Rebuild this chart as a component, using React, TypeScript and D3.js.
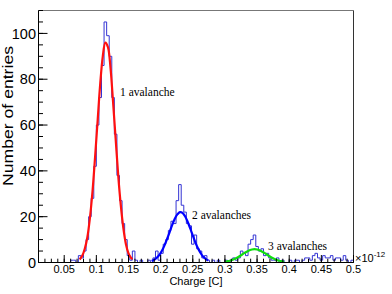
import React from 'react';
import * as d3 from 'd3';

// histogram: bins of width 0.004 starting at 0.056 (in units of 1e-12 C)
const binStart = 0.056;
const binWidth = 0.004;
const counts = [
  0, 1, 1, 0, 3, 2, 5, 10, 20, 28, 42, 60, 72, 86, 105, 99, 90, 72, 56, 38,
  27, 17, 10, 3, 1, 5, 1, 0, 1, 0, 0, 1, 0, 2, 5, 1, 4, 8, 10, 14,
  18, 17, 27, 34, 25, 22, 17, 16, 8, 12, 6, 5, 2, 3, 1, 0, 1, 0, 1, 0,
  0, 1, 0, 1, 2, 1, 2, 5, 4, 3, 8, 10, 12, 7, 5, 6, 3, 4, 2, 1,
  1, 2, 0, 1, 0, 0, 1, 0, 1, 1, 0, 1, 2, 2, 1, 3, 4, 2, 1, 3,
  2, 2, 3, 1, 2, 2, 1, 3, 1, 0, 1,
];

// fitted curves
const fit1X = [0.074, 0.078, 0.082, 0.086, 0.09, 0.094, 0.098, 0.102, 0.106, 0.11, 0.114, 0.118, 0.122, 0.126, 0.13, 0.134, 0.138, 0.142, 0.146, 0.15, 0.154, 0.156];
const fit1Y = [1.3, 2.9, 6, 11, 19.5, 31, 46, 62, 78, 90, 96, 94, 85, 70, 54, 38, 25, 15, 8, 4, 2, 1.4];
const fit2X = [0.186, 0.19, 0.194, 0.198, 0.202, 0.206, 0.21, 0.214, 0.218, 0.222, 0.226, 0.23, 0.234, 0.238, 0.242, 0.246, 0.25, 0.254, 0.258, 0.262, 0.266, 0.27, 0.274];
const fit2Y = [0.66, 1.2, 2.1, 3.3, 5.1, 7.5, 10.3, 13.3, 16.4, 19.1, 21, 22, 21.7, 20.2, 17.8, 14.9, 11.8, 8.8, 6.2, 4.2, 2.6, 1.6, 0.9];
const fit3X = [0.3, 0.306, 0.312, 0.318, 0.324, 0.33, 0.336, 0.342, 0.346, 0.35, 0.356, 0.362, 0.368, 0.374, 0.38, 0.386, 0.392];
const fit3Y = [0.31, 0.63, 1.17, 1.96, 2.97, 4.07, 5.05, 5.67, 5.8, 5.67, 5.05, 4.07, 2.97, 1.96, 1.17, 0.63, 0.31];

const xMajor = [0.05, 0.1, 0.15, 0.2, 0.25, 0.3, 0.35, 0.4, 0.45, 0.5];
const xLabels = ['0.05', '0.1', '0.15', '0.2', '0.25', '0.3', '0.35', '0.4', '0.45', '0.5'];
const yMajor = [0, 20, 40, 60, 80, 100];

const sans = 'Liberation Sans, Arial, sans-serif';
const serif = 'Liberation Serif, Times New Roman, serif';

const W = 392;
const H = 294;

const x = d3.scaleLinear().domain([0.01, 0.5]).range([38.5, 353.5]);
const y = d3.scaleLinear().domain([0, 110]).range([262.5, 10.5]);

const App: React.FC = () => {
  const histPts: [number, number][] = [[0.01, 0], [binStart, 0]];
  counts.forEach((c, i) => histPts.push([binStart + i * binWidth, c]));
  histPts.push([binStart + counts.length * binWidth, 0]);
  const step = d3
    .line<[number, number]>()
    .x((d) => x(d[0]))
    .y((d) => y(d[1]))
    .curve(d3.curveStepAfter);

  const smooth = d3
    .line<number>()
    .curve(d3.curveCatmullRom);
  const fitPath = (xs: number[], ys: number[]) =>
    smooth.x((_, i) => x(xs[i])).y((_, i) => y(ys[i]))(xs) as string;

  const xMinor = d3.range(1, 51).map((k) => k / 100);
  const yMinor = d3.range(0, 23).map((k) => k * 5);

  return (
    <div style={{ position: 'fixed', left: 0, top: 0 }}>
      <svg width={W} height={H} style={{ display: 'block', background: '#fff' }}>
        <path d={step(histPts) as string} fill="none" stroke="#3434d4" strokeWidth={1} />
        <path d={fitPath(fit1X, fit1Y)} fill="none" stroke="#ff1010" strokeWidth={2.2} />
        <path d={fitPath(fit2X, fit2Y)} fill="none" stroke="#0000ff" strokeWidth={2.2} />
        <path d={fitPath(fit3X, fit3Y)} fill="none" stroke="#10dd10" strokeWidth={2.2} />

        {/* frame */}
        <line x1={x(0.01)} x2={x(0.5)} y1={10.5} y2={10.5} stroke="#777" />
        <line x1={353.5} x2={353.5} y1={10.5} y2={262.5} stroke="#333" />
        <line x1={38.5} x2={38.5} y1={10.5} y2={262.5} stroke="#000" />
        <line x1={38.5} x2={353.5} y1={262.5} y2={262.5} stroke="#000" />

        {/* x ticks */}
        {xMinor.map((v) => (
          <line key={'xm' + v} x1={x(v)} x2={x(v)} y1={262.5} y2={258.7} stroke="#000" />
        ))}
        {xMajor.map((v) => (
          <line key={'xM' + v} x1={x(v)} x2={x(v)} y1={262.5} y2={255} stroke="#000" />
        ))}
        {xMajor.map((v, i) => (
          <text key={'xl' + v} x={x(v)} y={273.3} textAnchor="middle" fontFamily={sans} fontSize={11}>
            {xLabels[i]}
          </text>
        ))}
        <text x={196} y={285} textAnchor="middle" fontFamily={sans} fontSize={11}>
          Charge [C]
        </text>
        <text x={355} y={261.5} fontFamily={sans} fontSize={11}>
          ×10
          <tspan dy={-5} fontSize={8}>-12</tspan>
        </text>

        {/* y ticks */}
        {yMinor.map((v) => (
          <line key={'ym' + v} x1={38.5} x2={43} y1={y(v)} y2={y(v)} stroke="#000" />
        ))}
        {yMajor.map((v) => (
          <line key={'yM' + v} x1={38.5} x2={47.5} y1={y(v)} y2={y(v)} stroke="#000" />
        ))}
        {yMajor.map((v) => (
          <text key={'yl' + v} x={36} y={y(v)} dy="0.36em" textAnchor="end" fontFamily={sans} fontSize={14.5}>
            {v}
          </text>
        ))}
        <text
          transform="translate(13.3,186) rotate(-90)"
          fontFamily={sans}
          fontSize={15}
          textLength={140}
          lengthAdjust="spacingAndGlyphs"
        >
          Number of entries
        </text>

        {/* annotations */}
        <text x={120} y={95.7} fontFamily={serif} fontSize={11.5}>1 avalanche</text>
        <text x={192} y={219.3} fontFamily={serif} fontSize={11.5}>2 avalanches</text>
        <text x={268} y={250} fontFamily={serif} fontSize={11.5}>3 avalanches</text>
      </svg>
    </div>
  );
};

export default App;
